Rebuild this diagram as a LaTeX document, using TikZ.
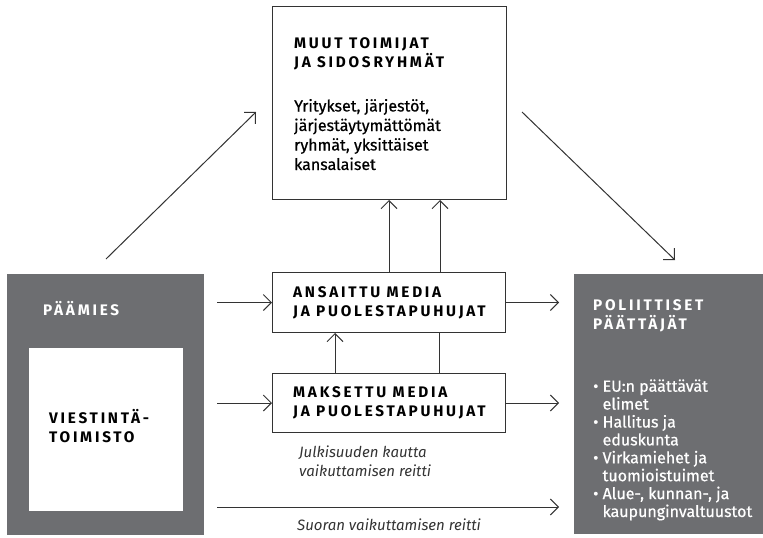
\documentclass[tikz,border=0pt]{standalone}
\usepackage{fontspec}
\setmainfont{Fira Sans}
\newfontfamily\medfont[FakeBold=0.6]{Fira Sans}
\newfontfamily\capsfont[LetterSpace=18, BoldFeatures={LetterSpace=18}]{Fira Sans}
\usetikzlibrary{arrows.meta}
\definecolor{boxgray}{HTML}{6D6E71}
\definecolor{linec}{HTML}{333333}
\tikzset{
  box/.style={draw=linec, line width=1pt, fill=white, inner sep=0pt, anchor=north west},
  graybox/.style={fill=boxgray, inner sep=0pt, anchor=north west},
  ttl/.style={anchor=base west, inner sep=0pt, font=\capsfont\bfseries\fontsize{15.3}{19}\selectfont},
  body/.style={anchor=base west, inner sep=0pt, align=left, font=\medfont\fontsize{16}{19.5}\selectfont},
  ital/.style={anchor=base west, inner sep=0pt, align=left, font=\itshape\fontsize{15}{19}\selectfont, text=linec},
  conn/.style={draw=linec, line width=1pt},
  arr/.style={conn, -{Straight Barb[length=8pt,width=16pt,line width=1pt]}},
}
\begin{document}
\begin{tikzpicture}[x=1pt,y=-1pt]
\useasboundingbox (0,0) rectangle (763,538);
% boxes
\node[box, minimum width=234pt, minimum height=193pt] (muut) at (272,6) {};
\node[graybox, minimum width=197pt, minimum height=261pt] (paamies) at (7,274) {};
\node[fill=white, inner sep=0pt, anchor=north west, minimum width=154pt, minimum height=163pt] (viest) at (29,348) {};
\node[graybox, minimum width=189pt, minimum height=260pt] (poli) at (574,274) {};
\node[box, minimum width=233pt, minimum height=60pt] (ansaittu) at (272,272) {};
\node[box, minimum width=233pt, minimum height=59pt] (maksettu) at (272,373) {};
% titles (one node per line, anchor = baseline)
\node[ttl] (t1a) at (294,48) {MUUT TOIMIJAT};
\node[ttl] (t1b) at (294,67) {JA SIDOSRYHMÄT};
\node[ttl, text=white] (t3) at (43,315) {PÄÄMIES};
\node[ttl] (t4a) at (49,423) {VIESTINTÄ-};
\node[ttl] (t4b) at (49,442) {TOIMISTO};
\node[ttl] (t5a) at (293,297) {ANSAITTU MEDIA};
\node[ttl] (t5b) at (293,316) {JA PUOLESTAPUHUJAT};
\node[ttl] (t6a) at (293,397) {MAKSETTU MEDIA};
\node[ttl] (t6b) at (293,416) {JA PUOLESTAPUHUJAT};
\node[ttl, text=white] (t9a) at (593,310) {POLIITTISET};
\node[ttl, text=white] (t9b) at (593,329) {PÄÄTTÄJÄT};
% other texts (anchor = baseline of last line)
\node[body] (t2) at (294,170) {Yritykset, järjestöt,\\järjestäytymättömät\\ryhmät, yksittäiset\\kansalaiset};
\node[ital] (t7) at (299,476) {Julkisuuden kautta\\vaikuttamisen reitti};
\node[ital] (t8) at (297,530) {Suoran vaikuttamisen reitti};
\node[body, text=white, font=\medfont\fontsize{16}{17.9}\selectfont] (t10) at (593,517)
  {• EU:n päättävät\\\phantom{• }elimet\\• Hallitus ja\\\phantom{• }eduskunta\\• Virkamiehet ja\\\phantom{• }tuomioistuimet\\• Alue-, kunnan-, ja\\\phantom{• }kaupunginvaltuustot};
% connectors
\draw[arr, shorten <=13pt] (paamies.east |- ansaittu.west) -- (ansaittu.west);
\draw[arr, shorten <=13pt] (paamies.east |- maksettu.west) -- (maksettu.west);
\draw[arr, shorten >=15pt] (ansaittu.east) -- (poli.west |- ansaittu.east);
\draw[arr, shorten >=15pt] (maksettu.east) -- (poli.west |- maksettu.east);
\coordinate (sL) at (217,507);
\coordinate (sR) at (559,507);
\draw[arr] (sL) -- (sR);
\draw[arr] (maksettu.north -| 335,0) -- (ansaittu.south -| 335,0);
\draw[conn] (maksettu.north -| 439,0) -- (ansaittu.south -| 439,0);
\draw[arr] (ansaittu.north -| 389,0) -- (muut.south -| 389,0);
\draw[arr] (ansaittu.north -| 440,0) -- (muut.south -| 440,0);
\coordinate (d1a) at (106,259);
\coordinate (d1b) at (256,112);
\coordinate (d2a) at (522,112);
\coordinate (d2b) at (675,260);
\draw[arr] (d1a) -- (d1b);
\draw[arr] (d2a) -- (d2b);
\end{tikzpicture}
\end{document}
